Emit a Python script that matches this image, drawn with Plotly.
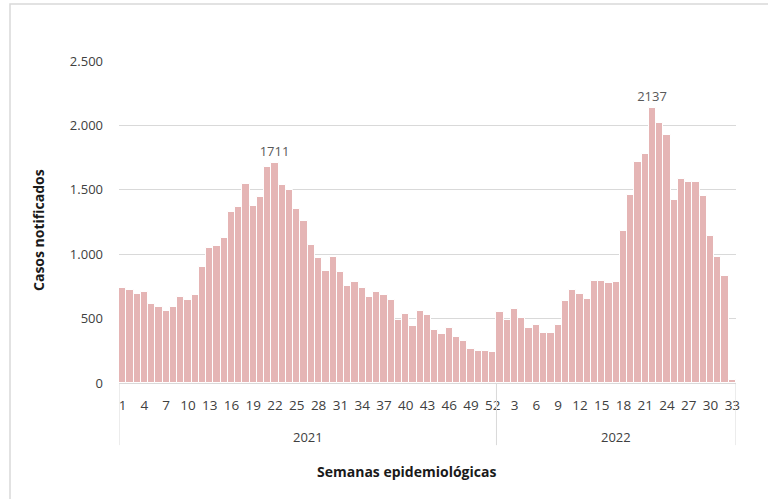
import plotly.graph_objects as go

# ---- data ----
years = ["2021", "2022"]
weeks_2021 = list(range(1, 53))
weeks_2022 = list(range(1, 34))
cases_2021 = [739, 724, 692, 705, 615, 587, 558, 587, 664, 641, 682, 897, 1052, 1065,
              1124, 1328, 1364, 1545, 1372, 1447, 1680, 1711, 1535, 1499, 1351, 1261,
              1070, 974, 866, 977, 860, 752, 788, 739, 664, 708, 685, 641, 486, 537,
              444, 556, 530, 412, 381, 430, 356, 327, 263, 247, 247, 242]
cases_2022 = [551, 490, 572, 505, 428, 454, 387, 387, 454, 639, 724, 691, 655, 794,
              794, 776, 783, 1180, 1459, 1714, 1781, 2137, 2020, 1925, 1423, 1585,
              1559, 1559, 1453, 1144, 977, 827, 21]
labelled_peaks = [1711, 2137]
y_ticks = [0, 500, 1000, 1500, 2000, 2500]
y_ticktext = ["0", "500", "1.000", "1.500", "2.000", "2.500"]

# ---- build ----
week_labels = [str(w) for w in weeks_2021] + [str(w) for w in weeks_2022]
values = cases_2021 + cases_2022
idx = list(range(len(values)))
bar_text = [str(v) if v in labelled_peaks else "" for v in values]

n21 = len(cases_2021)
n_all = len(values)

fig = go.Figure()
fig.add_trace(go.Bar(
    x=idx, y=values, text=bar_text, textposition="outside", constraintext="none",
    textfont=dict(family="Open Sans", size=13, color="#595959"),
    cliponaxis=False,
    marker=dict(color="#E5B5B5", line=dict(color="white", width=1)),
    hoverinfo="y",
))

grey = "#D9D9D9"
shapes = []
for xv in [-0.5, n21 - 0.5, n_all - 0.5]:
    shapes.append(dict(type="line", xref="x", yref="paper", x0=xv, x1=xv,
                       y0=0, y1=-0.193, line=dict(color=grey, width=1)))
# chart frame
shapes.append(dict(type="rect", xref="paper", yref="paper",
                   x0=(10 - 119) / 617, x1=3, y0=-3, y1=(383 - 4) / 322,
                   line=dict(color=grey, width=1.5), fillcolor="rgba(0,0,0,0)", layer="below"))

annotations = [
    dict(text="2021", xref="x", yref="paper", x=(n21 - 1) / 2, y=(383 - 437) / 322,
         xanchor="center", yanchor="middle",
         showarrow=False, font=dict(family="Open Sans", size=13, color="#404040")),
    dict(text="2022", xref="x", yref="paper", x=n21 + (n_all - n21 - 1) / 2, y=(383 - 437) / 322,
         xanchor="center", yanchor="middle",
         showarrow=False, font=dict(family="Open Sans", size=13, color="#404040")),
    dict(text="<b>Semanas epidemiológicas</b>", xref="paper", yref="paper",
         x=(406 - 119) / 617, y=(383 - 471) / 322, showarrow=False,
         xanchor="center", yanchor="middle",
         font=dict(family="Open Sans", size=14, color="#1a1a1a")),
    dict(text="<b>Casos notificados</b>", xref="paper", yref="paper",
         x=(38 - 119) / 617, y=(383 - 230) / 322, textangle=-90, showarrow=False,
         xanchor="center", yanchor="middle",
         font=dict(family="Open Sans", size=14, color="#1a1a1a")),
]

fig.update_layout(
    width=768, height=499,
    margin=dict(l=119, r=32, t=61, b=116),
    paper_bgcolor="white", plot_bgcolor="white",
    bargap=0, showlegend=False,
    shapes=shapes, annotations=annotations,
    font=dict(family="Open Sans", size=13, color="#404040"),
    xaxis=dict(range=[-0.5, n_all - 0.5], tickmode="array",
               tickvals=idx[::3], ticktext=week_labels[::3], tickangle=0,
               showgrid=False, showline=True, linecolor=grey, ticks="",
               ticklabelstandoff=10,
               tickfont=dict(family="Open Sans", size=13.5, color="#404040")),
    yaxis=dict(range=[0, 2500], tickmode="array", tickvals=y_ticks, ticktext=y_ticktext,
               showgrid=True, gridcolor=grey, zeroline=False, showline=False, ticks="",
               ticklabelstandoff=15,
               tickfont=dict(family="Open Sans", size=13, color="#404040")),
)

fig.write_html("out.html", config={"displayModeBar": False},
               post_script="document.body.style.margin='0';")
